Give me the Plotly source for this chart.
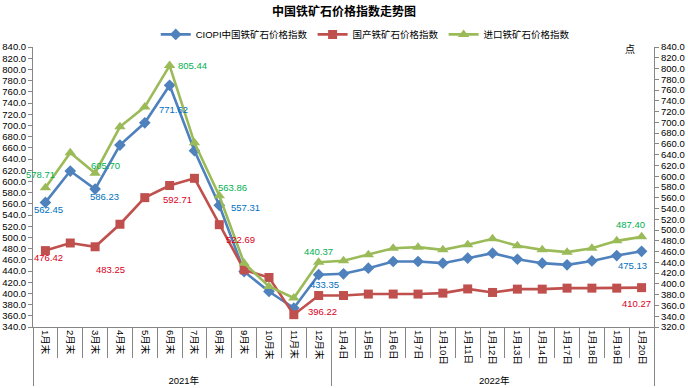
import plotly.graph_objects as go

periods = ["1月末", "2月末", "3月末", "4月末", "5月末", "6月末", "7月末", "8月末", "9月末", "10月末", "11月末", "12月末",
           "1月4日", "1月5日", "1月6日", "1月7日", "1月10日", "1月11日", "1月12日", "1月13日", "1月14日",
           "1月17日", "1月18日", "1月19日", "1月20日"]
years = ["2021年"] * 12 + ["2022年"] * 13

ciopi = [562.45, 618.5, 586.23, 664.8, 704.6, 771.62, 654.7, 557.31, 439.0, 403.4, 373.8, 433.35,
         435.0, 445.0, 457.0, 457.0, 454.0, 463.0, 471.8, 461.0, 454.0, 451.0, 458.0, 467.6, 475.13]
domestic = [476.42, 490.0, 483.25, 523.5, 571.0, 592.71, 605.5, 522.69, 442.0, 428.4, 362.0, 396.22,
            396.2, 398.8, 398.8, 398.8, 400.5, 408.0, 401.7, 407.6, 407.6, 409.4, 409.4, 409.4, 410.27]
imported = [578.71, 643.6, 605.70, 691.8, 728.8, 805.44, 662.0, 563.86, 438.6, 395.3, 373.8, 440.37,
            443.0, 454.0, 466.4, 468.3, 463.3, 472.6, 483.7, 470.7, 463.3, 459.0, 466.4, 480.0, 487.40]

names = ["CIOPI中国铁矿石价格指数", "国产铁矿石价格指数", "进口铁矿石价格指数"]
labeled_idx = [0, 2, 5, 7, 11, 24]

FONT = "Liberation Sans, Noto Sans CJK SC, sans-serif"
x = [years, periods]

fig = go.Figure()
fig.add_trace(go.Scatter(x=x, y=ciopi, name=names[0], mode="lines+markers",
                         line=dict(color="#4F81BD", width=2.6),
                         marker=dict(symbol="diamond", size=9, color="#4F81BD")))
fig.add_trace(go.Scatter(x=x, y=domestic, name=names[1], mode="lines+markers",
                         line=dict(color="#C0504D", width=2.6),
                         marker=dict(symbol="square", size=9, color="#C0504D")))
fig.add_trace(go.Scatter(x=x, y=imported, name=names[2], mode="lines+markers", yaxis="y2",
                         line=dict(color="#9BBB59", width=2.6),
                         marker=dict(symbol="triangle-up", size=10, color="#9BBB59")))

# label offsets (dx, dy) in pixels relative to each point
blue_off = [(3, -7), (9, -7), (4, -24), (26, -2), (6, -10), (-9, -14)]
red_off = [(3, -7), (15, -23), (8, -14), (21, -15), (4, -16), (-5, -16)]
green_off = [(-5, 13), (10, 8), (23, 0), (13, 8), (0, 11), (-11, 12)]

for series, offs, color, yref in [(ciopi, blue_off, "#0070C0", "y"),
                                   (domestic, red_off, "#D9001B", "y"),
                                   (imported, green_off, "#00B050", "y2")]:
    for i, (dx, dy) in zip(labeled_idx, offs):
        fig.add_annotation(x=i, y=series[i], xref="x", yref=yref, text=f"{series[i]:.2f}",
                           showarrow=False, xshift=dx, yshift=dy,
                           font=dict(size=9.5, color=color, family=FONT))

fig.add_annotation(x=0.972, y=0.99, xref="paper", yref="paper", text="点", showarrow=False,
                   yanchor="middle", font=dict(size=10, color="black", family=FONT))

axis_common = dict(showline=True, linecolor="#868686", linewidth=1, ticks="outside", ticklen=4,
                   tickcolor="#868686", showgrid=False, zeroline=False, dtick=20, tickformat=".1f",
                   automargin=False, tickfont=dict(size=9.5, color="black", family=FONT))

fig.update_layout(
    width=688, height=388,
    margin=dict(l=33, r=34, t=47, b=61),
    paper_bgcolor="white", plot_bgcolor="white",
    title=dict(text="<b>中国铁矿石价格指数走势图</b>", x=0.5, xanchor="center", y=0.969, yanchor="middle",
               font=dict(size=12, color="black", family=FONT)),
    legend=dict(orientation="h", x=0.535, xanchor="center", y=1.045, yanchor="middle",
                font=dict(size=9.5, color="black", family=FONT), bgcolor="rgba(0,0,0,0)"),
    xaxis=dict(type="multicategory", range=[-0.5, len(periods) - 0.5], showline=True, linecolor="#868686",
               ticks="outside", tickson="boundaries",
               ticklen=30, tickcolor="#868686", tickangle=90, showgrid=False, showdividers=True,
               dividercolor="#868686", dividerwidth=1, automargin=False,
               tickfont=dict(size=9.5, color="black", family=FONT)),
    yaxis=dict(range=[340, 840], **axis_common),
    yaxis2=dict(range=[320, 840], overlaying="y", side="right", **axis_common),
)

fig.write_html("out.html", config={"displayModeBar": False},
               post_script="document.body.style.margin='0';document.body.style.overflow='hidden';")
